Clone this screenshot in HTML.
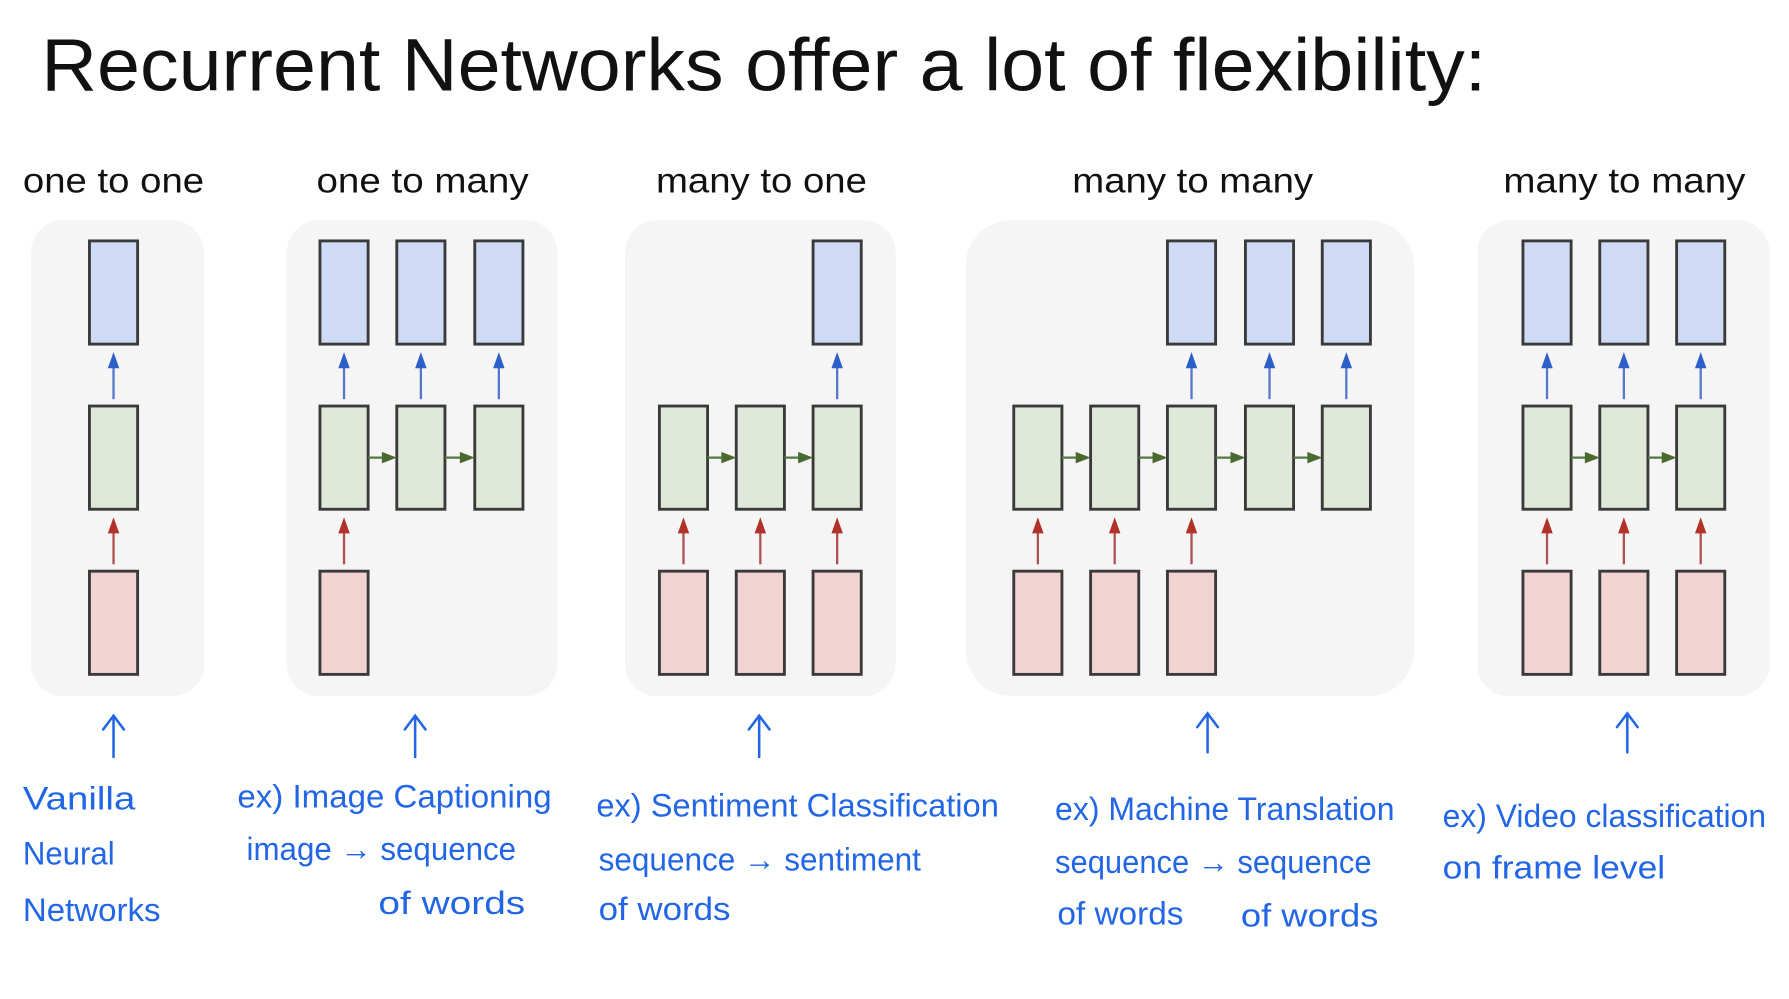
<!DOCTYPE html>
<html><head><meta charset="utf-8"><style>
html,body{margin:0;padding:0;background:#fff;width:1789px;height:999px;overflow:hidden}
svg{display:block}
.t{font-family:"Liberation Sans",sans-serif;fill:#111}
.h{font-family:"Liberation Sans",sans-serif;fill:#2266e6;font-size:28px}
</style></head><body>
<svg width="1789" height="999" viewBox="0 0 1560 871" xmlns="http://www.w3.org/2000/svg">
<text class="t" x="36" y="79" font-size="65" textLength="1260" lengthAdjust="spacingAndGlyphs">Recurrent Networks offer a lot of flexibility:</text>
<g class="t" font-size="31">
<text x="20" y="168" textLength="158" lengthAdjust="spacingAndGlyphs">one to one</text>
<text x="276" y="168" textLength="185" lengthAdjust="spacingAndGlyphs">one to many</text>
<text x="572" y="168" textLength="184" lengthAdjust="spacingAndGlyphs">many to one</text>
<text x="935" y="168" textLength="210" lengthAdjust="spacingAndGlyphs">many to many</text>
<text x="1311" y="168" textLength="211" lengthAdjust="spacingAndGlyphs">many to many</text>
</g>
<g fill="#f5f5f6">
<rect x="27" y="192" width="151" height="415" rx="28"/>
<rect x="250" y="192" width="236" height="415" rx="28"/>
<rect x="545" y="192" width="236" height="415" rx="28"/>
<rect x="842" y="192" width="391" height="415" rx="40"/>
<rect x="1288" y="192" width="255" height="415" rx="28"/>
</g>
<g stroke="#3a3a3a" stroke-width="2.5">
<g fill="#cfdaf5">
<rect x="78" y="210" width="42" height="90"/>
<rect x="279" y="210" width="42" height="90"/><rect x="346" y="210" width="42" height="90"/><rect x="414" y="210" width="42" height="90"/>
<rect x="709" y="210" width="42" height="90"/>
<rect x="1018" y="210" width="42" height="90"/><rect x="1086" y="210" width="42" height="90"/><rect x="1153" y="210" width="42" height="90"/>
<rect x="1328" y="210" width="42" height="90"/><rect x="1395" y="210" width="42" height="90"/><rect x="1462" y="210" width="42" height="90"/>
</g>
<g fill="#dfe8d9">
<rect x="78" y="354" width="42" height="90"/>
<rect x="279" y="354" width="42" height="90"/><rect x="346" y="354" width="42" height="90"/><rect x="414" y="354" width="42" height="90"/>
<rect x="575" y="354" width="42" height="90"/><rect x="642" y="354" width="42" height="90"/><rect x="709" y="354" width="42" height="90"/>
<rect x="884" y="354" width="42" height="90"/><rect x="951" y="354" width="42" height="90"/><rect x="1018" y="354" width="42" height="90"/><rect x="1086" y="354" width="42" height="90"/><rect x="1153" y="354" width="42" height="90"/>
<rect x="1328" y="354" width="42" height="90"/><rect x="1395" y="354" width="42" height="90"/><rect x="1462" y="354" width="42" height="90"/>
</g>
<g fill="#f1d4d2">
<rect x="78" y="498" width="42" height="90"/>
<rect x="279" y="498" width="42" height="90"/>
<rect x="575" y="498" width="42" height="90"/><rect x="642" y="498" width="42" height="90"/><rect x="709" y="498" width="42" height="90"/>
<rect x="884" y="498" width="42" height="90"/><rect x="951" y="498" width="42" height="90"/><rect x="1018" y="498" width="42" height="90"/>
<rect x="1328" y="498" width="42" height="90"/><rect x="1395" y="498" width="42" height="90"/><rect x="1462" y="498" width="42" height="90"/>
</g>
</g>
<g stroke-width="2">
<g stroke="#5577cc">
<line x1="99" y1="348" x2="99" y2="318"/><line x1="300" y1="348" x2="300" y2="318"/><line x1="367" y1="348" x2="367" y2="318"/><line x1="435" y1="348" x2="435" y2="318"/><line x1="730" y1="348" x2="730" y2="318"/><line x1="1039" y1="348" x2="1039" y2="318"/><line x1="1107" y1="348" x2="1107" y2="318"/><line x1="1174" y1="348" x2="1174" y2="318"/><line x1="1349" y1="348" x2="1349" y2="318"/><line x1="1416" y1="348" x2="1416" y2="318"/><line x1="1483" y1="348" x2="1483" y2="318"/>
</g>
<g fill="#2d5fc8">
<path d="M94,321 L99,307 L104,321Z"/><path d="M295,321 L300,307 L305,321Z"/><path d="M362,321 L367,307 L372,321Z"/><path d="M430,321 L435,307 L440,321Z"/><path d="M725,321 L730,307 L735,321Z"/><path d="M1034,321 L1039,307 L1044,321Z"/><path d="M1102,321 L1107,307 L1112,321Z"/><path d="M1169,321 L1174,307 L1179,321Z"/><path d="M1344,321 L1349,307 L1354,321Z"/><path d="M1411,321 L1416,307 L1421,321Z"/><path d="M1478,321 L1483,307 L1488,321Z"/>
</g>
<g stroke="#b05050">
<line x1="99" y1="492" x2="99" y2="462"/><line x1="300" y1="492" x2="300" y2="462"/><line x1="596" y1="492" x2="596" y2="462"/><line x1="663" y1="492" x2="663" y2="462"/><line x1="730" y1="492" x2="730" y2="462"/><line x1="905" y1="492" x2="905" y2="462"/><line x1="972" y1="492" x2="972" y2="462"/><line x1="1039" y1="492" x2="1039" y2="462"/><line x1="1349" y1="492" x2="1349" y2="462"/><line x1="1416" y1="492" x2="1416" y2="462"/><line x1="1483" y1="492" x2="1483" y2="462"/>
</g>
<g fill="#b03228">
<path d="M94,465 L99,451 L104,465Z"/><path d="M295,465 L300,451 L305,465Z"/><path d="M591,465 L596,451 L601,465Z"/><path d="M658,465 L663,451 L668,465Z"/><path d="M725,465 L730,451 L735,465Z"/><path d="M900,465 L905,451 L910,465Z"/><path d="M967,465 L972,451 L977,465Z"/><path d="M1034,465 L1039,451 L1044,465Z"/><path d="M1344,465 L1349,451 L1354,465Z"/><path d="M1411,465 L1416,451 L1421,465Z"/><path d="M1478,465 L1483,451 L1488,465Z"/>
</g>
<g stroke="#557744">
<line x1="321" y1="399" x2="335" y2="399"/><line x1="388" y1="399" x2="403" y2="399"/>
<line x1="617" y1="399" x2="631" y2="399"/><line x1="684" y1="399" x2="698" y2="399"/>
<line x1="926" y1="399" x2="940" y2="399"/><line x1="993" y1="399" x2="1007" y2="399"/><line x1="1060" y1="399" x2="1075" y2="399"/><line x1="1128" y1="399" x2="1142" y2="399"/>
<line x1="1370" y1="399" x2="1384" y2="399"/><line x1="1437" y1="399" x2="1451" y2="399"/>
</g>
<g fill="#4a6a30">
<path d="M333,394 L346,399 L333,404Z"/><path d="M401,394 L414,399 L401,404Z"/>
<path d="M629,394 L642,399 L629,404Z"/><path d="M696,394 L709,399 L696,404Z"/>
<path d="M938,394 L951,399 L938,404Z"/><path d="M1005,394 L1018,399 L1005,404Z"/><path d="M1073,394 L1086,399 L1073,404Z"/><path d="M1140,394 L1153,399 L1140,404Z"/>
<path d="M1382,394 L1395,399 L1382,404Z"/><path d="M1449,394 L1462,399 L1449,404Z"/>
</g>
</g>
<g stroke="#2266e6" stroke-width="2.2" fill="none" stroke-linecap="round">
<path d="M99,660 V624 M90,636 L99,624 L108,636"/>
<path d="M362,660 V624 M353,636 L362,624 L371,636"/>
<path d="M662,660 V624 M653,636 L662,624 L671,636"/>
<path d="M1053,656 V622 M1044,634 L1053,622 L1062,634"/>
<path d="M1419,656 V622 M1410,634 L1419,622 L1428,634"/>
</g>
<g class="h" lengthAdjust="spacingAndGlyphs">
<text x="20" y="706" textLength="98" lengthAdjust="spacingAndGlyphs">Vanilla</text>
<text x="20" y="754" textLength="80" lengthAdjust="spacingAndGlyphs">Neural</text>
<text x="20" y="803" textLength="120" lengthAdjust="spacingAndGlyphs">Networks</text>
<text x="207" y="704" textLength="274" lengthAdjust="spacingAndGlyphs">ex) Image  Captioning</text>
<text x="215" y="750" textLength="235" lengthAdjust="spacingAndGlyphs">image → sequence</text>
<text x="330" y="797" textLength="128" lengthAdjust="spacingAndGlyphs">of  words</text>
<text x="520" y="712" textLength="351" lengthAdjust="spacingAndGlyphs">ex) Sentiment  Classification</text>
<text x="522" y="759" textLength="281" lengthAdjust="spacingAndGlyphs">sequence → sentiment</text>
<text x="522" y="802" textLength="115" lengthAdjust="spacingAndGlyphs">of  words</text>
<text x="920" y="715" textLength="296" lengthAdjust="spacingAndGlyphs">ex) Machine  Translation</text>
<text x="920" y="761" textLength="276" lengthAdjust="spacingAndGlyphs">sequence → sequence</text>
<text x="922" y="806" textLength="110" lengthAdjust="spacingAndGlyphs">of words</text>
<text x="1082" y="808" textLength="120" lengthAdjust="spacingAndGlyphs">of  words</text>
<text x="1258" y="721" textLength="282" lengthAdjust="spacingAndGlyphs">ex) Video  classification</text>
<text x="1258" y="766" textLength="194" lengthAdjust="spacingAndGlyphs">on  frame  level</text>
</g>
</svg>
</body></html>
